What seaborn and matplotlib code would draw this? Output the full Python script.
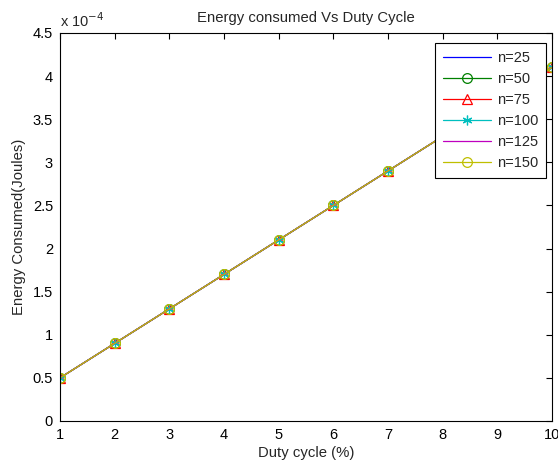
import numpy as np
import pandas as pd
import matplotlib
matplotlib.use("Agg")
import matplotlib.pyplot as plt
import seaborn as sns
from matplotlib.ticker import FuncFormatter

duty_cycle = [1, 2, 3, 4, 5, 6, 7, 8, 9, 10]
energy_base = [0.5e-4, 0.9e-4, 1.3e-4, 1.7e-4, 2.1e-4, 2.5e-4, 2.9e-4, 3.3e-4, 3.7e-4, 4.1e-4]
series_names = ["n=25", "n=50", "n=75", "n=100", "n=125", "n=150"]
series_values = {
    "n=25": energy_base,
    "n=50": energy_base,
    "n=75": energy_base,
    "n=100": energy_base,
    "n=125": energy_base,
    "n=150": energy_base,
}
x_ticks = [1, 2, 3, 4, 5, 6, 7, 8, 9, 10]
y_ticks = [0, 0.5e-4, 1e-4, 1.5e-4, 2e-4, 2.5e-4, 3e-4, 3.5e-4, 4e-4, 4.5e-4]

sns.set_style("white")
plt.rcParams['font.family'] = ['Liberation Sans', 'DejaVu Sans']

colors = [(0, 0, 1), (0, 0.5, 0), (1, 0, 0), (0, 0.75, 0.75), (0.75, 0, 0.75), (0.75, 0.75, 0)]
markers = [None, "o", "^", (6, 2, 0), None, "o"]

fig = plt.figure(figsize=(5.58, 4.66), dpi=100)
ax = fig.add_axes([0.1075, 0.0966, 0.8817, 0.8326])

for name, c, m in zip(series_names, colors, markers):
    df = pd.DataFrame({"x": duty_cycle, "y": series_values[name]})
    kw = dict(marker=m, markersize=7, markerfacecolor="none", markeredgecolor=c,
              markeredgewidth=0.9) if m is not None else {}
    sns.lineplot(data=df, x="x", y="y", ax=ax, color=c, linewidth=0.9,
                 label=name, **kw)

ax.set_xlim(1, 10)
ax.set_ylim(0, 4.5e-4)
ax.set_xticks(x_ticks)
ax.set_yticks(y_ticks)
ax.yaxis.set_major_formatter(FuncFormatter(lambda v, p: f"{v*1e4:g}"))
ax.tick_params(direction="in", length=4, width=0.8, top=True, right=True,
               labelsize=10.5, colors="black", pad=5)
for s in ax.spines.values():
    s.set_color("black")
    s.set_linewidth(0.8)
ax.text(0.0, 1.008, "x 10$^{-4}$", transform=ax.transAxes, fontsize=10.5,
        ha="left", va="bottom")
ax.set_title("Energy consumed Vs Duty Cycle", fontsize=10.7, pad=8)
ax.set_xlabel("Duty cycle (%)", fontsize=10.7, labelpad=3)
ax.set_ylabel("Energy Consumed(Joules)", fontsize=10.7, labelpad=5)

leg = ax.legend(loc="upper right", bbox_to_anchor=(1 - 6 / 492, 1 - 10 / 388),
                fontsize=10.5, frameon=True, fancybox=False,
                edgecolor="black", framealpha=1.0, borderaxespad=0.0,
                handlelength=3.3, labelspacing=0.48, borderpad=0.55,
                handletextpad=0.4)
leg.get_frame().set_linewidth(0.8)

fig.savefig("out.png", dpi=100, facecolor="white")
